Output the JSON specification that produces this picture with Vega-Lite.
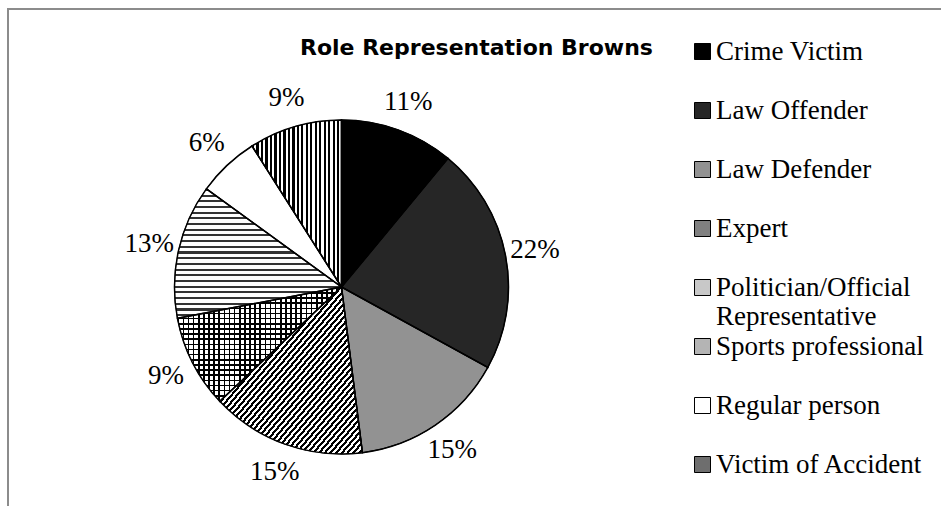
{
  "$schema": "https://vega.github.io/schema/vega-lite/v6.json",
  "autosize": {"type": "none"},
  "width": 936,
  "height": 500,
  "padding": {"left": 8, "top": 9, "right": -3, "bottom": -3},
  "background": "white",
  "view": {"stroke": "#8c8c8c", "strokeWidth": 2},
  "config": {
    "view": {"stroke": "#8c8c8c", "strokeWidth": 2},
    "text": {"font": "Liberation Serif"},
    "legend": {
      "orient": "none",
      "title": null,
      "padding": 0,
      "symbolType": "square",
      "symbolSize": 256,
      "symbolStrokeColor": "black",
      "symbolStrokeWidth": 1,
      "symbolOpacity": 1,
      "labelFont": "Liberation Serif",
      "labelFontSize": 27,
      "labelColor": "black",
      "labelLimit": 400,
      "labelOffset": 0,
      "rowPadding": 31
    }
  },
  "title": {
    "text": "Role Representation Browns",
    "font": "DejaVu Sans",
    "fontSize": 22,
    "fontWeight": "bold",
    "color": "black",
    "anchor": "start",
    "frame": "group",
    "baseline": "top",
    "offset": 0,
    "dx": 292,
    "dy": 51
  },
  "data": {
    "values": [
      {"idx": 1, "role": "Crime Victim", "share": 0.11},
      {"idx": 2, "role": "Law Offender", "share": 0.22},
      {"idx": 3, "role": "Law Defender", "share": 0.15},
      {"idx": 4, "role": "Expert", "share": 0.15},
      {"idx": 5, "role": "Politician/Official Representative", "share": 0.09},
      {"idx": 6, "role": "Sports professional", "share": 0.13},
      {"idx": 7, "role": "Regular person", "share": 0.06},
      {"idx": 8, "role": "Victim of Accident", "share": 0.09}
    ]
  },
  "encoding": {
    "theta": {"field": "share", "type": "quantitative", "stack": true},
    "order": {"field": "idx", "type": "quantitative", "sort": "ascending"}
  },
  "resolve": {"scale": {"color": "independent"}, "legend": {"color": "independent"}},
  "layer": [
    {
      "mark": {"type": "arc", "x": 333.5, "y": 278, "outerRadius": 167, "stroke": "black", "strokeWidth": 1},
      "encoding": {
        "color": {
          "field": "role",
          "type": "nominal",
          "scale": {
            "domain": ["Crime Victim", "Law Offender", "Law Defender", "Expert", "Politician/Official Representative", "Sports professional", "Regular person", "Victim of Accident"],
            "range": ["#000000", "#262626", "#929292", "#808080", "#c8c8c8", "#b4b4b4", "#ffffff", "#6e6e6e"]
          },
          "legend": null
        }
      }
    },
    {
      "transform": [{"filter": {"field": "role", "oneOf": ["Crime Victim", "Law Offender", "Law Defender", "Expert", "Politician/Official Representative"]}}],
      "mark": {"type": "arc", "x": 333.5, "y": 278, "outerRadius": 0, "innerRadius": 0},
      "encoding": {
        "color": {
          "field": "role",
          "type": "nominal",
          "scale": {
            "domain": ["Crime Victim", "Law Offender", "Law Defender", "Expert", "Politician/Official Representative"],
            "range": ["#000000", "#262626", "#929292", "#808080", "#c8c8c8"]
          },
          "legend": {
            "orient": "none",
            "legendX": 681,
            "legendY": 29,
            "labelExpr": "datum.label == 'Politician/Official Representative' ? ['Politician/Official', 'Representative'] : datum.label"
          }
        }
      }
    },
    {
      "transform": [{"filter": {"field": "role", "oneOf": ["Sports professional", "Regular person", "Victim of Accident"]}}],
      "mark": {"type": "arc", "x": 333.5, "y": 278, "outerRadius": 0, "innerRadius": 0},
      "encoding": {
        "color": {
          "field": "role",
          "type": "nominal",
          "scale": {
            "domain": ["Sports professional", "Regular person", "Victim of Accident"],
            "range": ["#b4b4b4", "#ffffff", "#6e6e6e"]
          },
          "legend": {
            "orient": "none",
            "legendX": 681,
            "legendY": 324
          }
        }
      }
    },
    {
      "mark": {"type": "arc", "x": 333.5, "y": 278, "outerRadius": 167},
      "encoding": {
        "fill": {
          "condition": [
            {
              "test": "datum.role === 'Victim of Accident'",
              "value": {"gradient": "linear", "x1": 0, "y1": 0, "x2": 1, "y2": 0, "stops": [
                {"offset": 0, "color": "#000"}, {"offset": 0.025, "color": "#000"}, {"offset": 0.025, "color": "#fff"}, {"offset": 0.05, "color": "#fff"},
                {"offset": 0.05, "color": "#000"}, {"offset": 0.075, "color": "#000"}, {"offset": 0.075, "color": "#fff"}, {"offset": 0.1, "color": "#fff"},
                {"offset": 0.1, "color": "#000"}, {"offset": 0.125, "color": "#000"}, {"offset": 0.125, "color": "#fff"}, {"offset": 0.15, "color": "#fff"},
                {"offset": 0.15, "color": "#000"}, {"offset": 0.175, "color": "#000"}, {"offset": 0.175, "color": "#fff"}, {"offset": 0.2, "color": "#fff"},
                {"offset": 0.2, "color": "#000"}, {"offset": 0.225, "color": "#000"}, {"offset": 0.225, "color": "#fff"}, {"offset": 0.25, "color": "#fff"},
                {"offset": 0.25, "color": "#000"}, {"offset": 0.275, "color": "#000"}, {"offset": 0.275, "color": "#fff"}, {"offset": 0.3, "color": "#fff"},
                {"offset": 0.3, "color": "#000"}, {"offset": 0.325, "color": "#000"}, {"offset": 0.325, "color": "#fff"}, {"offset": 0.35, "color": "#fff"},
                {"offset": 0.35, "color": "#000"}, {"offset": 0.375, "color": "#000"}, {"offset": 0.375, "color": "#fff"}, {"offset": 0.4, "color": "#fff"},
                {"offset": 0.4, "color": "#000"}, {"offset": 0.425, "color": "#000"}, {"offset": 0.425, "color": "#fff"}, {"offset": 0.45, "color": "#fff"},
                {"offset": 0.45, "color": "#000"}, {"offset": 0.475, "color": "#000"}, {"offset": 0.475, "color": "#fff"}, {"offset": 0.5, "color": "#fff"},
                {"offset": 0.5, "color": "#000"}, {"offset": 0.525, "color": "#000"}, {"offset": 0.525, "color": "#fff"}, {"offset": 0.55, "color": "#fff"},
                {"offset": 0.55, "color": "#000"}, {"offset": 0.575, "color": "#000"}, {"offset": 0.575, "color": "#fff"}, {"offset": 0.6, "color": "#fff"},
                {"offset": 0.6, "color": "#000"}, {"offset": 0.625, "color": "#000"}, {"offset": 0.625, "color": "#fff"}, {"offset": 0.65, "color": "#fff"},
                {"offset": 0.65, "color": "#000"}, {"offset": 0.675, "color": "#000"}, {"offset": 0.675, "color": "#fff"}, {"offset": 0.7, "color": "#fff"},
                {"offset": 0.7, "color": "#000"}, {"offset": 0.725, "color": "#000"}, {"offset": 0.725, "color": "#fff"}, {"offset": 0.75, "color": "#fff"},
                {"offset": 0.75, "color": "#000"}, {"offset": 0.775, "color": "#000"}, {"offset": 0.775, "color": "#fff"}, {"offset": 0.8, "color": "#fff"},
                {"offset": 0.8, "color": "#000"}, {"offset": 0.825, "color": "#000"}, {"offset": 0.825, "color": "#fff"}, {"offset": 0.85, "color": "#fff"},
                {"offset": 0.85, "color": "#000"}, {"offset": 0.875, "color": "#000"}, {"offset": 0.875, "color": "#fff"}, {"offset": 0.9, "color": "#fff"},
                {"offset": 0.9, "color": "#000"}, {"offset": 0.925, "color": "#000"}, {"offset": 0.925, "color": "#fff"}, {"offset": 0.95, "color": "#fff"},
                {"offset": 0.95, "color": "#000"}, {"offset": 0.975, "color": "#000"}, {"offset": 0.975, "color": "#fff"}, {"offset": 1, "color": "#fff"}
              ]}
            },
            {
              "test": "datum.role === 'Expert'",
              "value": {"gradient": "linear", "x1": 0, "y1": 0, "x2": 1, "y2": 1, "stops": [
                {"offset": 0, "color": "#000"}, {"offset": 0.01, "color": "#000"}, {"offset": 0.01, "color": "#fff"}, {"offset": 0.02, "color": "#fff"},
                {"offset": 0.02, "color": "#000"}, {"offset": 0.03, "color": "#000"}, {"offset": 0.03, "color": "#fff"}, {"offset": 0.04, "color": "#fff"},
                {"offset": 0.04, "color": "#000"}, {"offset": 0.05, "color": "#000"}, {"offset": 0.05, "color": "#fff"}, {"offset": 0.06, "color": "#fff"},
                {"offset": 0.06, "color": "#000"}, {"offset": 0.07, "color": "#000"}, {"offset": 0.07, "color": "#fff"}, {"offset": 0.08, "color": "#fff"},
                {"offset": 0.08, "color": "#000"}, {"offset": 0.09, "color": "#000"}, {"offset": 0.09, "color": "#fff"}, {"offset": 0.1, "color": "#fff"},
                {"offset": 0.1, "color": "#000"}, {"offset": 0.11, "color": "#000"}, {"offset": 0.11, "color": "#fff"}, {"offset": 0.12, "color": "#fff"},
                {"offset": 0.12, "color": "#000"}, {"offset": 0.13, "color": "#000"}, {"offset": 0.13, "color": "#fff"}, {"offset": 0.14, "color": "#fff"},
                {"offset": 0.14, "color": "#000"}, {"offset": 0.15, "color": "#000"}, {"offset": 0.15, "color": "#fff"}, {"offset": 0.16, "color": "#fff"},
                {"offset": 0.16, "color": "#000"}, {"offset": 0.17, "color": "#000"}, {"offset": 0.17, "color": "#fff"}, {"offset": 0.18, "color": "#fff"},
                {"offset": 0.18, "color": "#000"}, {"offset": 0.19, "color": "#000"}, {"offset": 0.19, "color": "#fff"}, {"offset": 0.2, "color": "#fff"},
                {"offset": 0.2, "color": "#000"}, {"offset": 0.21, "color": "#000"}, {"offset": 0.21, "color": "#fff"}, {"offset": 0.22, "color": "#fff"},
                {"offset": 0.22, "color": "#000"}, {"offset": 0.23, "color": "#000"}, {"offset": 0.23, "color": "#fff"}, {"offset": 0.24, "color": "#fff"},
                {"offset": 0.24, "color": "#000"}, {"offset": 0.25, "color": "#000"}, {"offset": 0.25, "color": "#fff"}, {"offset": 0.26, "color": "#fff"},
                {"offset": 0.26, "color": "#000"}, {"offset": 0.27, "color": "#000"}, {"offset": 0.27, "color": "#fff"}, {"offset": 0.28, "color": "#fff"},
                {"offset": 0.28, "color": "#000"}, {"offset": 0.29, "color": "#000"}, {"offset": 0.29, "color": "#fff"}, {"offset": 0.3, "color": "#fff"},
                {"offset": 0.3, "color": "#000"}, {"offset": 0.31, "color": "#000"}, {"offset": 0.31, "color": "#fff"}, {"offset": 0.32, "color": "#fff"},
                {"offset": 0.32, "color": "#000"}, {"offset": 0.33, "color": "#000"}, {"offset": 0.33, "color": "#fff"}, {"offset": 0.34, "color": "#fff"},
                {"offset": 0.34, "color": "#000"}, {"offset": 0.35, "color": "#000"}, {"offset": 0.35, "color": "#fff"}, {"offset": 0.36, "color": "#fff"},
                {"offset": 0.36, "color": "#000"}, {"offset": 0.37, "color": "#000"}, {"offset": 0.37, "color": "#fff"}, {"offset": 0.38, "color": "#fff"},
                {"offset": 0.38, "color": "#000"}, {"offset": 0.39, "color": "#000"}, {"offset": 0.39, "color": "#fff"}, {"offset": 0.4, "color": "#fff"},
                {"offset": 0.4, "color": "#000"}, {"offset": 0.41, "color": "#000"}, {"offset": 0.41, "color": "#fff"}, {"offset": 0.42, "color": "#fff"},
                {"offset": 0.42, "color": "#000"}, {"offset": 0.43, "color": "#000"}, {"offset": 0.43, "color": "#fff"}, {"offset": 0.44, "color": "#fff"},
                {"offset": 0.44, "color": "#000"}, {"offset": 0.45, "color": "#000"}, {"offset": 0.45, "color": "#fff"}, {"offset": 0.46, "color": "#fff"},
                {"offset": 0.46, "color": "#000"}, {"offset": 0.47, "color": "#000"}, {"offset": 0.47, "color": "#fff"}, {"offset": 0.48, "color": "#fff"},
                {"offset": 0.48, "color": "#000"}, {"offset": 0.49, "color": "#000"}, {"offset": 0.49, "color": "#fff"}, {"offset": 0.5, "color": "#fff"},
                {"offset": 0.5, "color": "#000"}, {"offset": 0.51, "color": "#000"}, {"offset": 0.51, "color": "#fff"}, {"offset": 0.52, "color": "#fff"},
                {"offset": 0.52, "color": "#000"}, {"offset": 0.53, "color": "#000"}, {"offset": 0.53, "color": "#fff"}, {"offset": 0.54, "color": "#fff"},
                {"offset": 0.54, "color": "#000"}, {"offset": 0.55, "color": "#000"}, {"offset": 0.55, "color": "#fff"}, {"offset": 0.56, "color": "#fff"},
                {"offset": 0.56, "color": "#000"}, {"offset": 0.57, "color": "#000"}, {"offset": 0.57, "color": "#fff"}, {"offset": 0.58, "color": "#fff"},
                {"offset": 0.58, "color": "#000"}, {"offset": 0.59, "color": "#000"}, {"offset": 0.59, "color": "#fff"}, {"offset": 0.6, "color": "#fff"},
                {"offset": 0.6, "color": "#000"}, {"offset": 0.61, "color": "#000"}, {"offset": 0.61, "color": "#fff"}, {"offset": 0.62, "color": "#fff"},
                {"offset": 0.62, "color": "#000"}, {"offset": 0.63, "color": "#000"}, {"offset": 0.63, "color": "#fff"}, {"offset": 0.64, "color": "#fff"},
                {"offset": 0.64, "color": "#000"}, {"offset": 0.65, "color": "#000"}, {"offset": 0.65, "color": "#fff"}, {"offset": 0.66, "color": "#fff"},
                {"offset": 0.66, "color": "#000"}, {"offset": 0.67, "color": "#000"}, {"offset": 0.67, "color": "#fff"}, {"offset": 0.68, "color": "#fff"},
                {"offset": 0.68, "color": "#000"}, {"offset": 0.69, "color": "#000"}, {"offset": 0.69, "color": "#fff"}, {"offset": 0.7, "color": "#fff"},
                {"offset": 0.7, "color": "#000"}, {"offset": 0.71, "color": "#000"}, {"offset": 0.71, "color": "#fff"}, {"offset": 0.72, "color": "#fff"},
                {"offset": 0.72, "color": "#000"}, {"offset": 0.73, "color": "#000"}, {"offset": 0.73, "color": "#fff"}, {"offset": 0.74, "color": "#fff"},
                {"offset": 0.74, "color": "#000"}, {"offset": 0.75, "color": "#000"}, {"offset": 0.75, "color": "#fff"}, {"offset": 0.76, "color": "#fff"},
                {"offset": 0.76, "color": "#000"}, {"offset": 0.77, "color": "#000"}, {"offset": 0.77, "color": "#fff"}, {"offset": 0.78, "color": "#fff"},
                {"offset": 0.78, "color": "#000"}, {"offset": 0.79, "color": "#000"}, {"offset": 0.79, "color": "#fff"}, {"offset": 0.8, "color": "#fff"},
                {"offset": 0.8, "color": "#000"}, {"offset": 0.81, "color": "#000"}, {"offset": 0.81, "color": "#fff"}, {"offset": 0.82, "color": "#fff"},
                {"offset": 0.82, "color": "#000"}, {"offset": 0.83, "color": "#000"}, {"offset": 0.83, "color": "#fff"}, {"offset": 0.84, "color": "#fff"},
                {"offset": 0.84, "color": "#000"}, {"offset": 0.85, "color": "#000"}, {"offset": 0.85, "color": "#fff"}, {"offset": 0.86, "color": "#fff"},
                {"offset": 0.86, "color": "#000"}, {"offset": 0.87, "color": "#000"}, {"offset": 0.87, "color": "#fff"}, {"offset": 0.88, "color": "#fff"},
                {"offset": 0.88, "color": "#000"}, {"offset": 0.89, "color": "#000"}, {"offset": 0.89, "color": "#fff"}, {"offset": 0.9, "color": "#fff"},
                {"offset": 0.9, "color": "#000"}, {"offset": 0.91, "color": "#000"}, {"offset": 0.91, "color": "#fff"}, {"offset": 0.92, "color": "#fff"},
                {"offset": 0.92, "color": "#000"}, {"offset": 0.93, "color": "#000"}, {"offset": 0.93, "color": "#fff"}, {"offset": 0.94, "color": "#fff"},
                {"offset": 0.94, "color": "#000"}, {"offset": 0.95, "color": "#000"}, {"offset": 0.95, "color": "#fff"}, {"offset": 0.96, "color": "#fff"},
                {"offset": 0.96, "color": "#000"}, {"offset": 0.97, "color": "#000"}, {"offset": 0.97, "color": "#fff"}, {"offset": 0.98, "color": "#fff"},
                {"offset": 0.98, "color": "#000"}, {"offset": 0.99, "color": "#000"}, {"offset": 0.99, "color": "#fff"}, {"offset": 1, "color": "#fff"}
              ]}
            },
            {
              "test": "datum.role === 'Politician/Official Representative'",
              "value": {"gradient": "linear", "x1": 0, "y1": 0, "x2": 1, "y2": 0, "stops": [
                {"offset": 0, "color": "#000"}, {"offset": 0.01, "color": "#000"}, {"offset": 0.01, "color": "#fff"}, {"offset": 0.03125, "color": "#fff"},
                {"offset": 0.03125, "color": "#000"}, {"offset": 0.04125, "color": "#000"}, {"offset": 0.04125, "color": "#fff"}, {"offset": 0.0625, "color": "#fff"},
                {"offset": 0.0625, "color": "#000"}, {"offset": 0.0725, "color": "#000"}, {"offset": 0.0725, "color": "#fff"}, {"offset": 0.09375, "color": "#fff"},
                {"offset": 0.09375, "color": "#000"}, {"offset": 0.10375, "color": "#000"}, {"offset": 0.10375, "color": "#fff"}, {"offset": 0.125, "color": "#fff"},
                {"offset": 0.125, "color": "#000"}, {"offset": 0.135, "color": "#000"}, {"offset": 0.135, "color": "#fff"}, {"offset": 0.15625, "color": "#fff"},
                {"offset": 0.15625, "color": "#000"}, {"offset": 0.16625, "color": "#000"}, {"offset": 0.16625, "color": "#fff"}, {"offset": 0.1875, "color": "#fff"},
                {"offset": 0.1875, "color": "#000"}, {"offset": 0.1975, "color": "#000"}, {"offset": 0.1975, "color": "#fff"}, {"offset": 0.21875, "color": "#fff"},
                {"offset": 0.21875, "color": "#000"}, {"offset": 0.22875, "color": "#000"}, {"offset": 0.22875, "color": "#fff"}, {"offset": 0.25, "color": "#fff"},
                {"offset": 0.25, "color": "#000"}, {"offset": 0.26, "color": "#000"}, {"offset": 0.26, "color": "#fff"}, {"offset": 0.28125, "color": "#fff"},
                {"offset": 0.28125, "color": "#000"}, {"offset": 0.29125, "color": "#000"}, {"offset": 0.29125, "color": "#fff"}, {"offset": 0.3125, "color": "#fff"},
                {"offset": 0.3125, "color": "#000"}, {"offset": 0.3225, "color": "#000"}, {"offset": 0.3225, "color": "#fff"}, {"offset": 0.34375, "color": "#fff"},
                {"offset": 0.34375, "color": "#000"}, {"offset": 0.35375, "color": "#000"}, {"offset": 0.35375, "color": "#fff"}, {"offset": 0.375, "color": "#fff"},
                {"offset": 0.375, "color": "#000"}, {"offset": 0.385, "color": "#000"}, {"offset": 0.385, "color": "#fff"}, {"offset": 0.40625, "color": "#fff"},
                {"offset": 0.40625, "color": "#000"}, {"offset": 0.41625, "color": "#000"}, {"offset": 0.41625, "color": "#fff"}, {"offset": 0.4375, "color": "#fff"},
                {"offset": 0.4375, "color": "#000"}, {"offset": 0.4475, "color": "#000"}, {"offset": 0.4475, "color": "#fff"}, {"offset": 0.46875, "color": "#fff"},
                {"offset": 0.46875, "color": "#000"}, {"offset": 0.47875, "color": "#000"}, {"offset": 0.47875, "color": "#fff"}, {"offset": 0.5, "color": "#fff"},
                {"offset": 0.5, "color": "#000"}, {"offset": 0.51, "color": "#000"}, {"offset": 0.51, "color": "#fff"}, {"offset": 0.53125, "color": "#fff"},
                {"offset": 0.53125, "color": "#000"}, {"offset": 0.54125, "color": "#000"}, {"offset": 0.54125, "color": "#fff"}, {"offset": 0.5625, "color": "#fff"},
                {"offset": 0.5625, "color": "#000"}, {"offset": 0.5725, "color": "#000"}, {"offset": 0.5725, "color": "#fff"}, {"offset": 0.59375, "color": "#fff"},
                {"offset": 0.59375, "color": "#000"}, {"offset": 0.60375, "color": "#000"}, {"offset": 0.60375, "color": "#fff"}, {"offset": 0.625, "color": "#fff"},
                {"offset": 0.625, "color": "#000"}, {"offset": 0.635, "color": "#000"}, {"offset": 0.635, "color": "#fff"}, {"offset": 0.65625, "color": "#fff"},
                {"offset": 0.65625, "color": "#000"}, {"offset": 0.66625, "color": "#000"}, {"offset": 0.66625, "color": "#fff"}, {"offset": 0.6875, "color": "#fff"},
                {"offset": 0.6875, "color": "#000"}, {"offset": 0.6975, "color": "#000"}, {"offset": 0.6975, "color": "#fff"}, {"offset": 0.71875, "color": "#fff"},
                {"offset": 0.71875, "color": "#000"}, {"offset": 0.72875, "color": "#000"}, {"offset": 0.72875, "color": "#fff"}, {"offset": 0.75, "color": "#fff"},
                {"offset": 0.75, "color": "#000"}, {"offset": 0.76, "color": "#000"}, {"offset": 0.76, "color": "#fff"}, {"offset": 0.78125, "color": "#fff"},
                {"offset": 0.78125, "color": "#000"}, {"offset": 0.79125, "color": "#000"}, {"offset": 0.79125, "color": "#fff"}, {"offset": 0.8125, "color": "#fff"},
                {"offset": 0.8125, "color": "#000"}, {"offset": 0.8225, "color": "#000"}, {"offset": 0.8225, "color": "#fff"}, {"offset": 0.84375, "color": "#fff"},
                {"offset": 0.84375, "color": "#000"}, {"offset": 0.85375, "color": "#000"}, {"offset": 0.85375, "color": "#fff"}, {"offset": 0.875, "color": "#fff"},
                {"offset": 0.875, "color": "#000"}, {"offset": 0.885, "color": "#000"}, {"offset": 0.885, "color": "#fff"}, {"offset": 0.90625, "color": "#fff"},
                {"offset": 0.90625, "color": "#000"}, {"offset": 0.91625, "color": "#000"}, {"offset": 0.91625, "color": "#fff"}, {"offset": 0.9375, "color": "#fff"},
                {"offset": 0.9375, "color": "#000"}, {"offset": 0.9475, "color": "#000"}, {"offset": 0.9475, "color": "#fff"}, {"offset": 0.96875, "color": "#fff"},
                {"offset": 0.96875, "color": "#000"}, {"offset": 0.97875, "color": "#000"}, {"offset": 0.97875, "color": "#fff"}, {"offset": 1, "color": "#fff"}
              ]}
            },
            {
              "test": "datum.role === 'Sports professional'",
              "value": {"gradient": "linear", "x1": 0, "y1": 0, "x2": 0, "y2": 1, "stops": [
                {"offset": 0, "color": "#333"}, {"offset": 0.016, "color": "#333"}, {"offset": 0.016, "color": "#fff"}, {"offset": 0.044, "color": "#fff"},
                {"offset": 0.044, "color": "#333"}, {"offset": 0.06, "color": "#333"}, {"offset": 0.06, "color": "#fff"}, {"offset": 0.088, "color": "#fff"},
                {"offset": 0.088, "color": "#333"}, {"offset": 0.104, "color": "#333"}, {"offset": 0.104, "color": "#fff"}, {"offset": 0.132, "color": "#fff"},
                {"offset": 0.132, "color": "#333"}, {"offset": 0.148, "color": "#333"}, {"offset": 0.148, "color": "#fff"}, {"offset": 0.176, "color": "#fff"},
                {"offset": 0.176, "color": "#333"}, {"offset": 0.192, "color": "#333"}, {"offset": 0.192, "color": "#fff"}, {"offset": 0.22, "color": "#fff"},
                {"offset": 0.22, "color": "#333"}, {"offset": 0.236, "color": "#333"}, {"offset": 0.236, "color": "#fff"}, {"offset": 0.264, "color": "#fff"},
                {"offset": 0.264, "color": "#333"}, {"offset": 0.28, "color": "#333"}, {"offset": 0.28, "color": "#fff"}, {"offset": 0.308, "color": "#fff"},
                {"offset": 0.308, "color": "#333"}, {"offset": 0.324, "color": "#333"}, {"offset": 0.324, "color": "#fff"}, {"offset": 0.352, "color": "#fff"},
                {"offset": 0.352, "color": "#333"}, {"offset": 0.368, "color": "#333"}, {"offset": 0.368, "color": "#fff"}, {"offset": 0.396, "color": "#fff"},
                {"offset": 0.396, "color": "#333"}, {"offset": 0.412, "color": "#333"}, {"offset": 0.412, "color": "#fff"}, {"offset": 0.44, "color": "#fff"},
                {"offset": 0.44, "color": "#333"}, {"offset": 0.456, "color": "#333"}, {"offset": 0.456, "color": "#fff"}, {"offset": 0.484, "color": "#fff"},
                {"offset": 0.484, "color": "#333"}, {"offset": 0.5, "color": "#333"}, {"offset": 0.5, "color": "#fff"}, {"offset": 0.528, "color": "#fff"},
                {"offset": 0.528, "color": "#333"}, {"offset": 0.544, "color": "#333"}, {"offset": 0.544, "color": "#fff"}, {"offset": 0.572, "color": "#fff"},
                {"offset": 0.572, "color": "#333"}, {"offset": 0.588, "color": "#333"}, {"offset": 0.588, "color": "#fff"}, {"offset": 0.616, "color": "#fff"},
                {"offset": 0.616, "color": "#333"}, {"offset": 0.632, "color": "#333"}, {"offset": 0.632, "color": "#fff"}, {"offset": 0.66, "color": "#fff"},
                {"offset": 0.66, "color": "#333"}, {"offset": 0.676, "color": "#333"}, {"offset": 0.676, "color": "#fff"}, {"offset": 0.704, "color": "#fff"},
                {"offset": 0.704, "color": "#333"}, {"offset": 0.72, "color": "#333"}, {"offset": 0.72, "color": "#fff"}, {"offset": 0.748, "color": "#fff"},
                {"offset": 0.748, "color": "#333"}, {"offset": 0.764, "color": "#333"}, {"offset": 0.764, "color": "#fff"}, {"offset": 0.792, "color": "#fff"},
                {"offset": 0.792, "color": "#333"}, {"offset": 0.808, "color": "#333"}, {"offset": 0.808, "color": "#fff"}, {"offset": 0.836, "color": "#fff"},
                {"offset": 0.836, "color": "#333"}, {"offset": 0.852, "color": "#333"}, {"offset": 0.852, "color": "#fff"}, {"offset": 0.88, "color": "#fff"},
                {"offset": 0.88, "color": "#333"}, {"offset": 0.896, "color": "#333"}, {"offset": 0.896, "color": "#fff"}, {"offset": 0.924, "color": "#fff"},
                {"offset": 0.924, "color": "#333"}, {"offset": 0.94, "color": "#333"}, {"offset": 0.94, "color": "#fff"}, {"offset": 0.968, "color": "#fff"},
                {"offset": 0.968, "color": "#333"}, {"offset": 0.984, "color": "#333"}, {"offset": 0.984, "color": "#fff"}, {"offset": 1, "color": "#fff"}
              ]}
            }
          ],
          "value": null
        }
      }
    },
    {
      "mark": {"type": "arc", "x": 333.5, "y": 278, "outerRadius": 167, "stroke": "black", "strokeWidth": 1.5},
      "encoding": {
        "fill": {
          "condition": [
            {
              "test": "datum.role === 'Politician/Official Representative'",
              "value": {"gradient": "linear", "x1": 0, "y1": 0, "x2": 0, "y2": 1, "stops": [
                {"offset": 0, "color": "#000"}, {"offset": 0.014, "color": "#000"}, {"offset": 0.014, "color": "rgba(0,0,0,0)"}, {"offset": 0.045, "color": "rgba(0,0,0,0)"},
                {"offset": 0.045, "color": "#000"}, {"offset": 0.059, "color": "#000"}, {"offset": 0.059, "color": "rgba(0,0,0,0)"}, {"offset": 0.09, "color": "rgba(0,0,0,0)"},
                {"offset": 0.09, "color": "#000"}, {"offset": 0.104, "color": "#000"}, {"offset": 0.104, "color": "rgba(0,0,0,0)"}, {"offset": 0.135, "color": "rgba(0,0,0,0)"},
                {"offset": 0.135, "color": "#000"}, {"offset": 0.149, "color": "#000"}, {"offset": 0.149, "color": "rgba(0,0,0,0)"}, {"offset": 0.18, "color": "rgba(0,0,0,0)"},
                {"offset": 0.18, "color": "#000"}, {"offset": 0.194, "color": "#000"}, {"offset": 0.194, "color": "rgba(0,0,0,0)"}, {"offset": 0.225, "color": "rgba(0,0,0,0)"},
                {"offset": 0.225, "color": "#000"}, {"offset": 0.239, "color": "#000"}, {"offset": 0.239, "color": "rgba(0,0,0,0)"}, {"offset": 0.27, "color": "rgba(0,0,0,0)"},
                {"offset": 0.27, "color": "#000"}, {"offset": 0.284, "color": "#000"}, {"offset": 0.284, "color": "rgba(0,0,0,0)"}, {"offset": 0.315, "color": "rgba(0,0,0,0)"},
                {"offset": 0.315, "color": "#000"}, {"offset": 0.329, "color": "#000"}, {"offset": 0.329, "color": "rgba(0,0,0,0)"}, {"offset": 0.36, "color": "rgba(0,0,0,0)"},
                {"offset": 0.36, "color": "#000"}, {"offset": 0.374, "color": "#000"}, {"offset": 0.374, "color": "rgba(0,0,0,0)"}, {"offset": 0.405, "color": "rgba(0,0,0,0)"},
                {"offset": 0.405, "color": "#000"}, {"offset": 0.419, "color": "#000"}, {"offset": 0.419, "color": "rgba(0,0,0,0)"}, {"offset": 0.45, "color": "rgba(0,0,0,0)"},
                {"offset": 0.45, "color": "#000"}, {"offset": 0.464, "color": "#000"}, {"offset": 0.464, "color": "rgba(0,0,0,0)"}, {"offset": 0.495, "color": "rgba(0,0,0,0)"},
                {"offset": 0.495, "color": "#000"}, {"offset": 0.509, "color": "#000"}, {"offset": 0.509, "color": "rgba(0,0,0,0)"}, {"offset": 0.54, "color": "rgba(0,0,0,0)"},
                {"offset": 0.54, "color": "#000"}, {"offset": 0.554, "color": "#000"}, {"offset": 0.554, "color": "rgba(0,0,0,0)"}, {"offset": 0.585, "color": "rgba(0,0,0,0)"},
                {"offset": 0.585, "color": "#000"}, {"offset": 0.599, "color": "#000"}, {"offset": 0.599, "color": "rgba(0,0,0,0)"}, {"offset": 0.63, "color": "rgba(0,0,0,0)"},
                {"offset": 0.63, "color": "#000"}, {"offset": 0.644, "color": "#000"}, {"offset": 0.644, "color": "rgba(0,0,0,0)"}, {"offset": 0.675, "color": "rgba(0,0,0,0)"},
                {"offset": 0.675, "color": "#000"}, {"offset": 0.689, "color": "#000"}, {"offset": 0.689, "color": "rgba(0,0,0,0)"}, {"offset": 0.72, "color": "rgba(0,0,0,0)"},
                {"offset": 0.72, "color": "#000"}, {"offset": 0.734, "color": "#000"}, {"offset": 0.734, "color": "rgba(0,0,0,0)"}, {"offset": 0.765, "color": "rgba(0,0,0,0)"},
                {"offset": 0.765, "color": "#000"}, {"offset": 0.779, "color": "#000"}, {"offset": 0.779, "color": "rgba(0,0,0,0)"}, {"offset": 0.81, "color": "rgba(0,0,0,0)"},
                {"offset": 0.81, "color": "#000"}, {"offset": 0.824, "color": "#000"}, {"offset": 0.824, "color": "rgba(0,0,0,0)"}, {"offset": 0.855, "color": "rgba(0,0,0,0)"},
                {"offset": 0.855, "color": "#000"}, {"offset": 0.869, "color": "#000"}, {"offset": 0.869, "color": "rgba(0,0,0,0)"}, {"offset": 0.9, "color": "rgba(0,0,0,0)"},
                {"offset": 0.9, "color": "#000"}, {"offset": 0.914, "color": "#000"}, {"offset": 0.914, "color": "rgba(0,0,0,0)"}, {"offset": 0.945, "color": "rgba(0,0,0,0)"},
                {"offset": 0.945, "color": "#000"}, {"offset": 0.959, "color": "#000"}, {"offset": 0.959, "color": "rgba(0,0,0,0)"}, {"offset": 0.99, "color": "rgba(0,0,0,0)"},
                {"offset": 0.99, "color": "#000"}, {"offset": 1, "color": "#000"}
              ]}
            }
          ],
          "value": null
        }
      }
    },
    {
      "mark": {"type": "text", "x": 333.5, "y": 278, "radius": 197, "font": "Liberation Serif", "fontSize": 27, "color": "black", "align": "center", "baseline": "middle"},
      "encoding": {
        "text": {"field": "share", "type": "quantitative", "format": ".0%"}
      }
    }
  ]
}
